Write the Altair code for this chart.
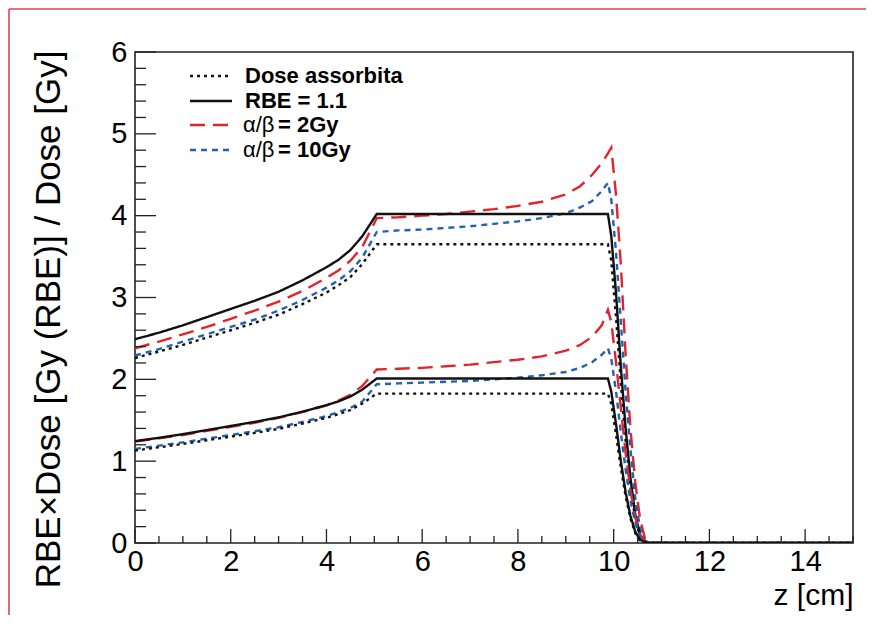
import altair as alt
import pandas as pd

# depth z [cm]
Z = [0, 0.5, 1, 1.5, 2, 2.5, 3, 3.5, 4, 4.25, 4.5, 4.75, 5.05,
     5.5, 6, 6.5, 7, 7.5, 8, 8.5, 9, 9.3, 9.55, 9.75, 9.88,
     9.95, 10.05, 10.15, 10.25, 10.35, 10.45, 10.55, 10.65, 10.75,
     11, 12, 13, 14, 15]

# upper group (4 Gy(RBE) plateau)
DOSE_HI = [2.26, 2.34, 2.42, 2.51, 2.60, 2.69, 2.79, 2.92, 3.06, 3.15, 3.25, 3.41, 3.65,
           3.65, 3.65, 3.65, 3.65, 3.65, 3.65, 3.65, 3.65, 3.65, 3.65, 3.65, 3.65,
           3.45, 2.75, 1.95, 1.25, 0.70, 0.30, 0.08, 0.01, 0.0,
           0, 0, 0, 0, 0]
RBE_HI = [2.49, 2.57, 2.66, 2.76, 2.86, 2.96, 3.07, 3.21, 3.37, 3.46, 3.58, 3.75, 4.02,
          4.02, 4.02, 4.02, 4.02, 4.02, 4.02, 4.02, 4.02, 4.02, 4.02, 4.02, 4.02,
          3.75, 3.05, 2.15, 1.40, 0.80, 0.35, 0.10, 0.02, 0.0,
          0, 0, 0, 0, 0]
AB2_HI = [2.38, 2.46, 2.55, 2.64, 2.74, 2.84, 2.95, 3.08, 3.24, 3.33, 3.45, 3.62, 3.97,
          3.98, 4.00, 4.02, 4.05, 4.08, 4.12, 4.17, 4.26, 4.36, 4.50, 4.64, 4.76,
          4.83, 4.25, 3.40, 2.30, 1.40, 0.75, 0.30, 0.06, 0.01,
          0, 0, 0, 0, 0]
AB10_HI = [2.29, 2.37, 2.46, 2.55, 2.64, 2.73, 2.84, 2.97, 3.12, 3.21, 3.32, 3.49, 3.80,
           3.82, 3.83, 3.85, 3.87, 3.90, 3.93, 3.97, 4.03, 4.10, 4.18, 4.30, 4.40,
           4.20, 3.55, 2.70, 1.85, 1.15, 0.55, 0.18, 0.03, 0.0,
           0, 0, 0, 0, 0]

# lower group (2 Gy(RBE) plateau)
DOSE_LO = [1.13, 1.17, 1.21, 1.255, 1.30, 1.345, 1.395, 1.46, 1.53, 1.575, 1.625, 1.705, 1.825,
           1.825, 1.825, 1.825, 1.825, 1.825, 1.825, 1.825, 1.825, 1.825, 1.825, 1.825, 1.825,
           1.70, 1.32, 0.92, 0.57, 0.30, 0.12, 0.03, 0.0, 0.0,
           0, 0, 0, 0, 0]
RBE_LO = [1.245, 1.285, 1.33, 1.38, 1.43, 1.48, 1.535, 1.605, 1.685, 1.73, 1.79, 1.875, 2.01,
          2.01, 2.01, 2.01, 2.01, 2.01, 2.01, 2.01, 2.01, 2.01, 2.01, 2.01, 2.01,
          1.85, 1.45, 1.00, 0.62, 0.33, 0.14, 0.04, 0.01, 0.0,
          0, 0, 0, 0, 0]
AB2_LO = [1.24, 1.28, 1.32, 1.37, 1.42, 1.47, 1.53, 1.60, 1.68, 1.74, 1.81, 1.92, 2.12,
          2.13, 2.14, 2.16, 2.18, 2.21, 2.24, 2.28, 2.35, 2.42, 2.52, 2.66, 2.85,
          2.70, 2.20, 1.65, 1.10, 0.65, 0.32, 0.10, 0.02, 0.0,
          0, 0, 0, 0, 0]
AB10_LO = [1.15, 1.19, 1.23, 1.275, 1.32, 1.365, 1.415, 1.48, 1.55, 1.60, 1.65, 1.73, 1.94,
           1.95, 1.96, 1.97, 1.98, 2.00, 2.02, 2.05, 2.09, 2.14, 2.21, 2.30, 2.38,
           2.25, 1.85, 1.35, 0.90, 0.52, 0.25, 0.08, 0.01, 0.0,
           0, 0, 0, 0, 0]

SERIES = ["Dose assorbita", "RBE = 1.1", "ab2", "ab10"]
COLORS = ["#111111", "#111111", "#e3232b", "#2161b0"]
DASHES = [[3, 4], [1, 0], [15, 8], [6, 5]]

X_MAJOR = [0, 2, 4, 6, 8, 10, 12, 14]
X_MINOR = [v / 2 for v in range(0, 31) if v % 4 != 0]
Y_MAJOR = [0, 1, 2, 3, 4, 5, 6]
Y_MINOR = [v / 5 for v in range(0, 31) if v % 5 != 0]

rows = []
for name, grp, vals in [
    ("ab2", "hi", AB2_HI), ("ab10", "hi", AB10_HI), ("RBE = 1.1", "hi", RBE_HI), ("Dose assorbita", "hi", DOSE_HI),
    ("ab2", "lo", AB2_LO), ("ab10", "lo", AB10_LO), ("RBE = 1.1", "lo", RBE_LO), ("Dose assorbita", "lo", DOSE_LO),
]:
    for i, (z, v) in enumerate(zip(Z, vals)):
        rows.append({"z": z, "v": v, "series": name, "key": name + grp, "i": i})
df = pd.DataFrame(rows)

W, H = 718, 491
FONT = "Liberation Sans"
xs = alt.Scale(domain=[0, 15], nice=False, zero=False)
ys = alt.Scale(domain=[0, 6], nice=False, zero=False)

XAXIS = alt.Axis(
    values=X_MAJOR, ticks=False, domain=False, grid=False, labelFlush=False,
    labelOverlap=False, labelFontSize=29, labelFont=FONT, labelColor="black",
    labelPadding=4, title="z [cm]", titleFont=FONT, titleFontSize=30,
    titleFontWeight="normal", titleColor="black", titleAnchor="end",
    titleAlign="right", titleBaseline="alphabetic", titleX=W, titleY=61)
YAXIS = alt.Axis(
    values=Y_MAJOR, ticks=False, domain=False, grid=False, labelFlush=False,
    labelOverlap=False, labelFontSize=29, labelFont=FONT, labelColor="black",
    labelPadding=8, title="RBE×Dose [Gy (RBE)] / Dose [Gy]", titleFont=FONT,
    titleFontSize=35, titleFontWeight="normal", titleColor="black",
    titleAngle=270, titleAlign="right", titleBaseline="middle",
    titleX=-87, titleY=-2)

lines = alt.Chart(df).mark_line(strokeWidth=2.4, clip=True).encode(
    x=alt.X("z:Q", scale=xs, axis=XAXIS),
    y=alt.Y("v:Q", scale=ys, axis=YAXIS),
    color=alt.Color("series:N", scale=alt.Scale(domain=SERIES, range=COLORS), legend=None),
    strokeDash=alt.StrokeDash("series:N", scale=alt.Scale(domain=SERIES, range=DASHES), legend=None),
    detail="key:N",
    order="i:Q",
)

def xticks(vals, length):
    return alt.Chart(pd.DataFrame({"t": vals})).mark_rule(color="#222", strokeWidth=1.3).encode(
        x=alt.X("t:Q", scale=xs, axis=XAXIS), y=alt.value(H), y2=alt.value(H - length))

def yticks(vals, length):
    return alt.Chart(pd.DataFrame({"t": vals})).mark_rule(color="#222", strokeWidth=1.3).encode(
        y=alt.Y("t:Q", scale=ys, axis=YAXIS), x=alt.value(0), x2=alt.value(length))

one = pd.DataFrame({"a": [0]})

def hline(x1, x2, y, color, dash, width=2.4):
    return alt.Chart(one).mark_rule(color=color, strokeDash=dash, strokeWidth=width).encode(
        x=alt.value(x1), x2=alt.value(x2), y=alt.value(y))

def label(x, y, txt, color="black", weight="bold", size=22):
    return alt.Chart(one).mark_text(align="left", baseline="middle", font=FONT, fontSize=size,
                                    fontWeight=weight, color=color).encode(
        x=alt.value(x), y=alt.value(y), text=alt.value(txt))

legend = [
    hline(55, 97, 24, "#111111", [3, 4]), label(110, 24, "Dose assorbita"),
    hline(55, 97, 49, "#111111", [1, 0]), label(110, 49, "RBE = 1.1"),
    hline(55, 97, 73, "#e3232b", [15, 8]), label(108, 73, "α/β", weight="normal"),
    label(143, 73, "= 2Gy"),
    hline(55, 97, 98, "#2161b0", [6, 5]), label(108, 98, "α/β", weight="normal"),
    label(143, 98, "= 10Gy"),
]

frame_red = [
    alt.Chart(one).mark_rule(color="#dd4450", strokeWidth=1.6).encode(
        x=alt.value(-126), x2=alt.value(W + 40), y=alt.value(-43)),
    alt.Chart(one).mark_rule(color="#dd4450", strokeWidth=1.6).encode(
        x=alt.value(-126), y=alt.value(-43), y2=alt.value(H + 120)),
]

chart = alt.layer(
    lines, xticks(X_MINOR, 7), xticks(X_MAJOR, 14), yticks(Y_MINOR, 11), yticks(Y_MAJOR, 21),
    *legend, *frame_red
).properties(
    width=W, height=H,
    padding={"left": 127, "top": 44, "right": 13, "bottom": 72},
    autosize=alt.AutoSizeParams(type="none"),
    background="white",
).configure_view(stroke="#222", strokeWidth=1.6)

chart.save("out.html", embed_options={"renderer": "svg", "actions": False})
